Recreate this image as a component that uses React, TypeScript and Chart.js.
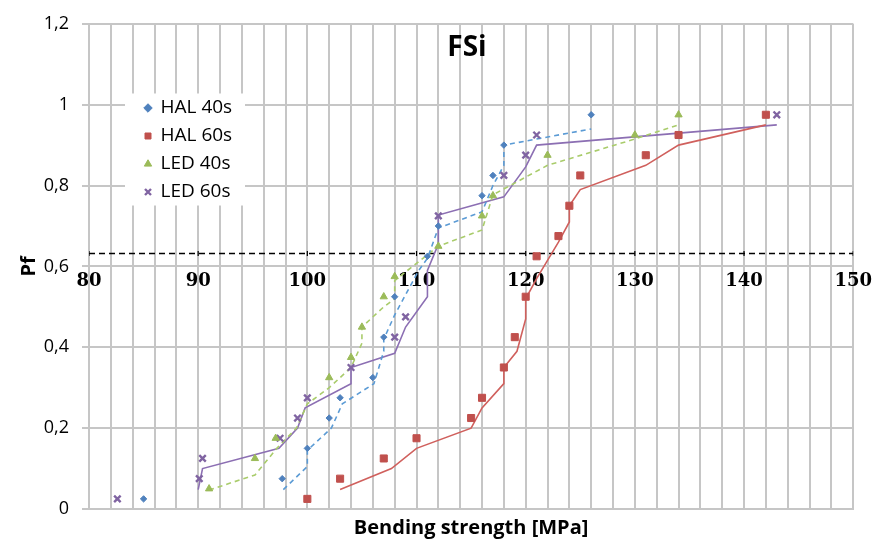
import React, { useEffect, useRef } from 'react';
import { Chart, registerables } from 'chart.js';

Chart.register(...registerables);

const chartTitle = 'FSi';
const xTitle = 'Bending strength [MPa]';
const yTitle = 'Pf';
const seriesLabels = ['HAL 40s', 'HAL 60s', 'LED 40s', 'LED 60s'];
const xTickLabels = ['80', '90', '100', '110', '120', '130', '140', '150'];
const yTickLabels = ['0', '0,2', '0,4', '0,6', '0,8', '1', '1,2'];

// measured points
const hal40X = [85, 97.7, 100, 102, 103, 106, 107, 108, 111, 112, 116, 117, 118, 126];
const hal40Pf = [0.025, 0.075, 0.15, 0.225, 0.275, 0.325, 0.425, 0.525, 0.625, 0.7, 0.775, 0.825, 0.9, 0.975];

const hal60X = [100, 103, 107, 110, 115, 116, 118, 119, 120, 121, 123, 124, 125, 131, 134, 142];
const hal60Pf = [0.025, 0.075, 0.125, 0.175, 0.225, 0.275, 0.35, 0.425, 0.525, 0.625, 0.675, 0.75, 0.825, 0.875, 0.925, 0.975];

const led40X = [91, 95.2, 97.1, 102, 104, 105, 107, 108, 112, 116, 117, 122, 130, 134];
const led40Pf = [0.05, 0.125, 0.175, 0.325, 0.375, 0.45, 0.525, 0.575, 0.65, 0.725, 0.775, 0.875, 0.925, 0.975];

const led60X = [82.6, 90.1, 90.4, 97.5, 99.1, 100, 104, 108, 109, 112, 118, 120, 121, 143];
const led60Pf = [0.025, 0.075, 0.125, 0.175, 0.225, 0.275, 0.35, 0.425, 0.475, 0.725, 0.825, 0.875, 0.925, 0.975];

// fitted curves
const hal40FitX = [97.8, 100, 100, 102.2, 103.2, 106.1, 107, 107, 108, 110.2, 111, 112, 116, 117, 118, 118, 126];
const hal40FitPf = [0.048, 0.105, 0.145, 0.2, 0.26, 0.31, 0.39, 0.42, 0.48, 0.59, 0.62, 0.695, 0.735, 0.8, 0.85, 0.9, 0.94];

const hal60FitX = [103, 107.7, 110, 115, 116, 118, 118, 119.2, 120, 120, 121, 123, 124, 124, 125, 131, 134, 142];
const hal60FitPf = [0.048, 0.1, 0.15, 0.2, 0.25, 0.31, 0.35, 0.39, 0.47, 0.52, 0.57, 0.66, 0.71, 0.75, 0.79, 0.85, 0.9, 0.95];

const led40FitX = [91, 95.2, 97.2, 99, 100, 102, 104, 105, 105, 107, 108, 108, 112, 116, 117, 122, 130, 134];
const led40FitPf = [0.047, 0.084, 0.15, 0.2, 0.26, 0.3, 0.35, 0.41, 0.45, 0.5, 0.52, 0.565, 0.65, 0.69, 0.777, 0.85, 0.915, 0.95];

const led60FitX = [90, 90.4, 97.4, 99.1, 99.8, 104, 104, 108, 109, 111, 111, 112, 112, 118, 120, 121, 143];
const led60FitPf = [0.048, 0.1, 0.15, 0.2, 0.25, 0.31, 0.35, 0.385, 0.45, 0.525, 0.59, 0.655, 0.727, 0.772, 0.846, 0.9, 0.95];

// 63.2 % reference line
const thresholdX = [80, 90, 100, 110, 120, 130, 140, 150];
const thresholdPf = 0.632;

const BLUE = '#4F81BD';
const RED = '#C0504D';
const GREEN = '#9BBB59';
const PURPLE = '#8064A2';
const GRID = '#c6c6c6';
const SANS = '"Open Sans", "DejaVu Sans", sans-serif';

const pts = (xs: number[], ys: number[]) => xs.map((x, i) => ({ x, y: ys[i] }));

const markers = (label: string, xs: number[], ys: number[], color: string, style: string, radius: number, bw: number) => ({
  type: 'scatter' as const,
  label,
  data: pts(xs, ys),
  showLine: false,
  pointStyle: style,
  pointRadius: radius,
  pointHoverRadius: radius,
  backgroundColor: color,
  borderColor: color,
  pointBorderWidth: bw,
  borderWidth: bw,
});

const fitLine = (label: string, xs: number[], ys: number[], color: string, dashed: boolean) => ({
  type: 'scatter' as const,
  label,
  data: pts(xs, ys),
  showLine: true,
  pointRadius: 0,
  borderColor: color,
  backgroundColor: color,
  borderWidth: 1.6,
  borderDash: dashed ? [5, 4] : [],
  fill: false,
  tension: 0,
});

const overlayPlugin = {
  id: 'overlayPlacement',
  afterLayout(chart: any) {
    const lg = chart.legend;
    if (lg) {
      const w = lg.width;
      const h = 124;
      lg.left = 136;
      lg.top = 89.5;
      lg.right = lg.left + w;
      lg.bottom = lg.top + h;
      lg.height = h;
      if (!lg.__patched) {
        const proto = Object.getPrototypeOf(lg);
        lg.draw = function (area: any) {
          const ctx = this.ctx;
          ctx.save();
          ctx.fillStyle = '#ffffff';
          ctx.fillRect(125, this.top + 4, 120, 112);
          ctx.restore();
          proto.draw.call(this, area);
        };
        lg.__patched = true;
      }
    }
    const t = chart.titleBlock;
    if (t) {
      const h = t.height;
      t.top = 37.5;
      t.bottom = t.top + h;
      t.left = 29;
      t.right = 876 + 29;
    }
  },
};

export default function App() {
  const ref = useRef<HTMLCanvasElement>(null);
  useEffect(() => {
    document.body.style.margin = '0';
    const canvas = ref.current!;
    const chart = new Chart(canvas, {
      type: 'scatter',
      data: {
        datasets: [
          markers(seriesLabels[0], hal40X, hal40Pf, BLUE, 'rectRot', 3.2, 1),
          markers(seriesLabels[1], hal60X, hal60Pf, RED, 'rect', 5, 1),
          markers(seriesLabels[2], led40X, led40Pf, GREEN, 'triangle', 4.2, 1),
          markers(seriesLabels[3], led60X, led60Pf, PURPLE, 'crossRot', 4.6, 2.4),
          fitLine('HAL 40s fit', hal40FitX, hal40FitPf, '#5B9BD5', true),
          fitLine('HAL 60s fit', hal60FitX, hal60FitPf, '#D0605D', false),
          fitLine('LED 40s fit', led40FitX, led40FitPf, '#A9CC6B', true),
          fitLine('LED 60s fit', led60FitX, led60FitPf, '#8C6FB3', false),
          {
            type: 'scatter' as const,
            label: '63.2%',
            data: thresholdX.map((x) => ({ x, y: thresholdPf })),
            showLine: true,
            borderColor: '#000000',
            backgroundColor: '#000000',
            borderWidth: 1.4,
            borderDash: [6, 4],
            pointStyle: 'line',
            rotation: 90,
            pointRadius: 2.5,
            pointBorderWidth: 1.2,
            pointBorderColor: '#000000',
          } as any,
        ],
      },
      options: {
        responsive: false,
        animation: false,
        layout: { padding: { left: 0, right: 18, top: 0, bottom: 0 } },
        plugins: {
          tooltip: { enabled: false },
          title: {
            display: true,
            text: chartTitle,
            color: '#000',
            font: { family: SANS, size: 28, weight: 'bold', lineHeight: '21px' } as any,
            padding: { top: 0, bottom: 0 },
          },
          legend: {
            display: true,
            position: 'chartArea' as any,
            align: 'start',
            labels: {
              usePointStyle: true,
              boxWidth: 6,
              boxHeight: 6,
              padding: 9,
              color: '#000',
              font: { family: SANS, size: 19 },
              filter: (item: any) => item.datasetIndex < 4,
            },
          },
        },
        scales: {
          x: {
            type: 'linear',
            position: 'bottom',
            min: 80,
            max: 150,
            ticks: { stepSize: 2, display: false },
            grid: { color: GRID, lineWidth: 2, drawTicks: false, z: -1 },
            border: { display: true, color: GRID, width: 2 },
            title: {
              display: true,
              text: xTitle,
              color: '#000',
              font: { family: SANS, size: 20, weight: 'bold' },
              padding: { top: 0, bottom: 0 },
            },
            afterFit: (s: any) => { s.height = 31; },
          },
          xl: {
            type: 'linear',
            position: { y: 0.6 } as any,
            min: 80,
            max: 150,
            ticks: {
              stepSize: 10,
              padding: 4,
              color: '#000',
              font: { family: '"DejaVu Serif", serif', size: 18, weight: 'bold' },
              callback: (_v: any, i: number) => xTickLabels[i],
            },
            grid: { display: false, drawTicks: false },
            border: { display: true, color: GRID, width: 2 },
          },
          y: {
            type: 'linear',
            min: 0,
            max: 1.2,
            ticks: {
              stepSize: 0.2,
              padding: 13,
              color: '#000',
              font: { family: SANS, size: 18 },
              callback: (_v: any, i: number) => yTickLabels[i],
            },
            grid: { color: GRID, lineWidth: 2, tickLength: 7, z: -1 },
            border: { display: true, color: GRID, width: 2 },
            title: {
              display: true,
              text: yTitle,
              color: '#000',
              font: { family: SANS, size: 20, weight: 'bold' },
              padding: { top: 17, bottom: 0 },
            },
            afterFit: (s: any) => { s.width = 89; },
          },
        },
      } as any,
      plugins: [overlayPlugin],
    } as any);
    return () => chart.destroy();
  }, []);
  return (
    <div style={{ width: 876, height: 540 }}>
      <canvas ref={ref} width={876} height={540} style={{ display: 'block' }} />
    </div>
  );
}
